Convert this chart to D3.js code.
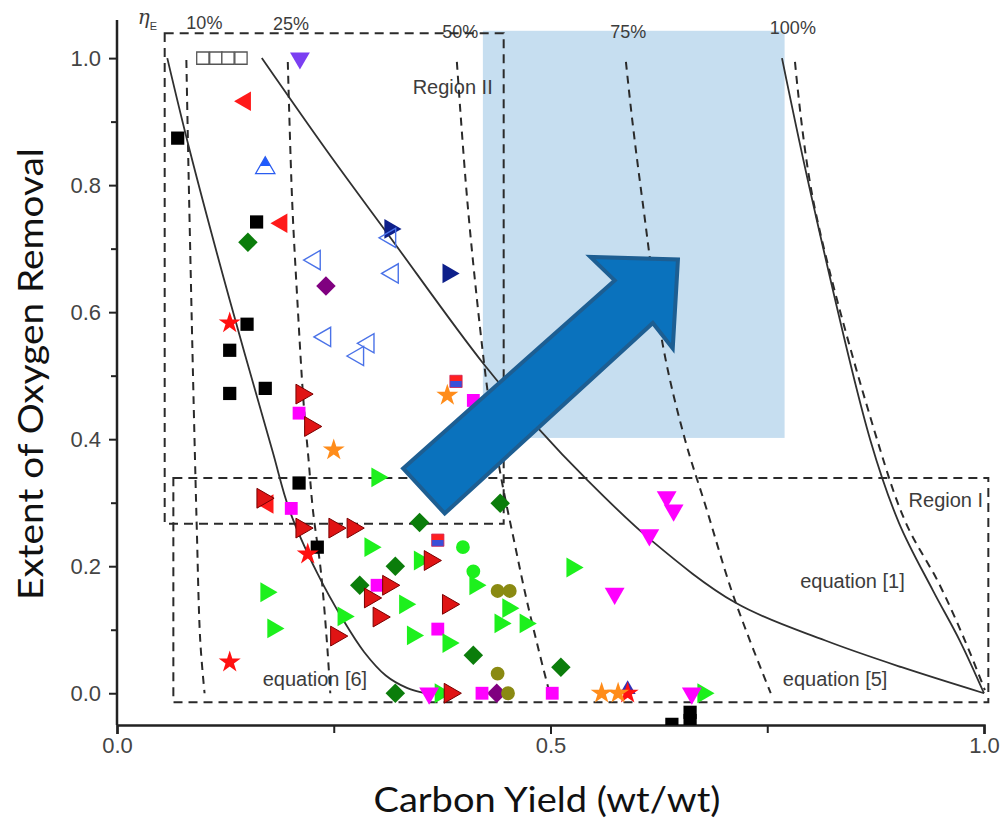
<!DOCTYPE html>
<html><head><meta charset="utf-8">
<script src="https://cdn.jsdelivr.net/npm/d3@7"></script>
<style>body{margin:0;background:#fff;} svg{display:block;}</style>
</head><body>
<svg id="chart" width="1005" height="825"></svg>
<script>
// ---------------- data ----------------
const xTickValues = [0, 0.5, 1.0];
const xMinorTicks = [0.25, 0.75];
const yTickValues = [0, 0.2, 0.4, 0.6, 0.8, 1.0];
const yMinorTicks = [0.1, 0.3, 0.5, 0.7, 0.9];
const etaLabels = ["10%", "25%", "50%", "75%", "100%"];
const xTitle = "Carbon Yield (wt/wt)";
const yTitle = "Extent of Oxygen Removal";

// iso-efficiency (dashed) curves [x, y]
const eta10 = [[0.080,0.997],[0.082,0.855],[0.087,0.540],[0.090,0.367],[0.092,0.261],[0.096,0.083],[0.101,0.0]];
const eta25 = [[0.197,0.994],[0.202,0.776],[0.208,0.619],[0.215,0.461],[0.221,0.367],[0.226,0.288],[0.235,0.194],[0.242,0.083],[0.246,0.0]];
const eta50 = [[0.392,0.994],[0.404,0.776],[0.419,0.572],[0.430,0.450],[0.443,0.340],[0.458,0.240],[0.472,0.150],[0.486,0.070],[0.499,0.0]];
const eta75 = [[0.587,0.994],[0.594,0.906],[0.606,0.776],[0.630,0.545],[0.655,0.400],[0.680,0.290],[0.708,0.165],[0.730,0.083],[0.754,0.0]];
const eta100 = [[0.782,0.994],[0.803,0.776],[0.877,0.398],[0.910,0.268],[0.948,0.173],[0.978,0.083],[1.001,0.005]];

// model curves (solid)
const equation6 = [[0.058,1.0],[0.084,0.854],[0.130,0.619],[0.179,0.383],[0.199,0.288],[0.231,0.189],[0.261,0.115],[0.285,0.065],[0.310,0.028],[0.335,0.008],[0.355,0.0]];
const equation5 = [[0.167,1.0],[0.242,0.854],[0.315,0.718],[0.422,0.520],[0.488,0.414],[0.540,0.339],[0.616,0.241],[0.714,0.142],[0.817,0.083],[0.905,0.041],[1.0,0.0]];
const equation1 = [[0.767,1.0],[0.802,0.776],[0.869,0.398],[0.902,0.268],[0.941,0.162],[0.972,0.083],[1.0,0.0]];

// literature data points [carbon yield, extent of O removal]
const blackSquares = [[0.070,0.874],[0.161,0.742],[0.150,0.581],[0.130,0.540],[0.130,0.472],[0.171,0.480],[0.210,0.331],[0.231,0.230],[0.640,-0.049],[0.661,-0.030],[0.661,-0.043]];
const openSquares = [[0.099,1.0],[0.114,1.0],[0.128,1.0],[0.143,1.0]];
const purpleDownTri = [[0.211,1.0]];
const redLeftTri = [[0.148,0.932],[0.190,0.740],[0.174,0.298]];
const blueHalfUpTri = [[0.171,0.827]];
const greenDiamonds = [[0.151,0.710],[0.349,0.269],[0.442,0.299],[0.321,0.200],[0.280,0.170],[0.411,0.060],[0.512,0.041],[0.321,0.0]];
const purpleDiamonds = [[0.241,0.641],[0.438,0.0]];
const navyRightTri = [[0.315,0.731],[0.382,0.661]];
const openBlueLeftTri = [[0.315,0.717],[0.228,0.682],[0.318,0.661],[0.240,0.561],[0.290,0.551],[0.278,0.531]];
const navyUpTri = [[0.589,0.006]];
const redStars = [[0.130,0.583],[0.220,0.219],[0.130,0.049],[0.589,0.0]];
const orangeStars = [[0.381,0.469],[0.250,0.383],[0.559,0.0],[0.578,0.0]];
const redBlueSquares = [[0.391,0.491],[0.370,0.241]];
const magentaSquares = [[0.411,0.461],[0.210,0.441],[0.201,0.291],[0.300,0.170],[0.370,0.101],[0.421,0.0],[0.502,0.0]];
const redRightTri = [[0.213,0.471],[0.223,0.420],[0.168,0.307],[0.213,0.260],[0.251,0.260],[0.272,0.260],[0.361,0.209],[0.313,0.170],[0.292,0.150],[0.382,0.140],[0.302,0.120],[0.253,0.090],[0.384,0.0]];
const greenRightTri = [[0.300,0.340],[0.292,0.230],[0.349,0.209],[0.413,0.170],[0.332,0.140],[0.172,0.159],[0.180,0.102],[0.261,0.121],[0.451,0.134],[0.442,0.110],[0.471,0.110],[0.341,0.091],[0.382,0.079],[0.525,0.198],[0.373,0.0],[0.676,0.0]];
const greenCircles = [[0.399,0.230],[0.411,0.192]];
const oliveCircles = [[0.439,0.161],[0.453,0.161],[0.439,0.031],[0.451,0.0]];
const magentaDownTri = [[0.634,0.309],[0.642,0.288],[0.614,0.249],[0.574,0.157],[0.360,0.0],[0.663,0.0]];

// annotation shapes in data space
const blueZone = {x0:0.422, x1:0.770, y0:0.402, y1:1.043};
const region2 = {x0:0.055, x1:0.446, y0:0.267, y1:1.039};
const region1 = {x0:0.065, x1:1.005, y0:-0.014, y1:0.339};
const arrowShape = [[0.330,0.354],[0.574,0.650],[0.546,0.687],[0.647,0.683],[0.641,0.543],[0.618,0.583],[0.378,0.283]];

// ---------------- drawing ----------------
const svg = d3.select("#chart");
const x = d3.scaleLinear().domain([0, 1]).range([117, 984]);
const y = d3.scaleLinear().domain([-0.05, 1.06]).range([725, 20]);

const defs = svg.append("defs");
defs.append("clipPath").attr("id","plotclip").append("rect")
  .attr("x", x(0)).attr("y", 0).attr("width", 1005 - x(0)).attr("height", y(-0.05));
const g1 = defs.append("linearGradient").attr("id","rb").attr("x1",0).attr("y1",0).attr("x2",0).attr("y2",1);
[[0,"#ff2020"],[0.5,"#ff2020"],[0.5,"#3a4fd9"],[1,"#3a4fd9"]].forEach(s=>g1.append("stop").attr("offset",s[0]).attr("stop-color",s[1]));
const g2 = defs.append("linearGradient").attr("id","bh").attr("x1",0).attr("y1",0).attr("x2",0).attr("y2",1);
[[0,"#1f5bff"],[0.55,"#1f5bff"],[0.55,"#ffffff"],[1,"#ffffff"]].forEach(s=>g2.append("stop").attr("offset",s[0]).attr("stop-color",s[1]));

// blue target zone
svg.append("rect")
  .attr("x", x(blueZone.x0)).attr("y", y(blueZone.y1))
  .attr("width", x(blueZone.x1) - x(blueZone.x0)).attr("height", y(blueZone.y0) - y(blueZone.y1))
  .attr("fill", "#c6def0");

const textColor = "#3c3c3c";
// annotation text
const ann = svg.append("g").attr("font-family","Liberation Sans, Arial, sans-serif").attr("fill",textColor);
const etaPos = [[0.080,1.046],[0.180,1.045],[0.375,1.031],[0.569,1.031],[0.753,1.038]];
etaLabels.forEach((t,i)=> ann.append("text").attr("x", x(etaPos[i][0])).attr("y", y(etaPos[i][1])).attr("font-size",18).text(t));
const eta = ann.append("text").attr("x", x(0.024)).attr("y", y(1.054));
eta.append("tspan").attr("font-family","DejaVu Serif, serif").attr("font-style","italic").attr("font-size",20).text("η");
eta.append("tspan").attr("font-size",11).attr("dy",6).text("E");
ann.append("text").attr("x", x(0.341)).attr("y", y(0.943)).attr("font-size",20).text("Region II");
ann.append("text").attr("x", x(0.913)).attr("y", y(0.294)).attr("font-size",20).text("Region I");
ann.append("text").attr("x", x(0.788)).attr("y", y(0.165)).attr("font-size",20).text("equation [1]");
ann.append("text").attr("x", x(0.768)).attr("y", y(0.011)).attr("font-size",20).text("equation [5]");
ann.append("text").attr("x", x(0.168)).attr("y", y(0.011)).attr("font-size",20).text("equation [6]");

// dashed region boxes
const dash = "9,6";
function regionBox(r){
  svg.append("rect").attr("x", x(r.x0)).attr("y", y(r.y1))
    .attr("width", x(r.x1)-x(r.x0)).attr("height", y(r.y0)-y(r.y1))
    .attr("fill","none").attr("stroke","#2a2a2a").attr("stroke-width",2).attr("stroke-dasharray",dash);
}
regionBox(region2);
regionBox(region1);

// dashed iso-efficiency curves
const smooth = d3.line().x(d=>x(d[0])).y(d=>y(d[1])).curve(d3.curveCatmullRom.alpha(0.5));
[eta10, eta25, eta50, eta75, eta100].forEach(c=>{
  svg.append("path").attr("d", smooth(c)).attr("fill","none").attr("stroke","#2a2a2a")
    .attr("stroke-width",2).attr("stroke-dasharray","8,6");
});
// solid model curves
[equation6, equation5, equation1].forEach(c=>{
  svg.append("path").attr("d", smooth(c)).attr("fill","none").attr("stroke","#303030").attr("stroke-width",1.8);
});

// axes
const axisColor = "#222";
const yAxis = svg.append("g").attr("transform",`translate(${x(0)},0)`)
  .call(d3.axisLeft(y).tickValues(yTickValues).tickFormat(d3.format(".1f")).tickSize(8).tickPadding(8));
svg.append("g").attr("transform",`translate(${x(0)},0)`)
  .call(d3.axisLeft(y).tickValues(yMinorTicks).tickFormat("").tickSize(6))
  .call(g=>g.select(".domain").remove());
const xAxis = svg.append("g").attr("transform",`translate(0,${y(-0.05)})`)
  .call(d3.axisBottom(x).tickValues(xTickValues).tickFormat(d3.format(".1f")).tickSize(9).tickPadding(3));
svg.append("g").attr("transform",`translate(0,${y(-0.05)})`)
  .call(d3.axisBottom(x).tickValues(xMinorTicks).tickFormat("").tickSize(8))
  .call(g=>g.select(".domain").remove());
svg.selectAll(".domain").attr("stroke",axisColor).attr("stroke-width",2.5);
svg.selectAll(".tick line").attr("stroke",axisColor).attr("stroke-width",2);
svg.selectAll(".tick text").attr("font-family","Liberation Sans, Arial, sans-serif").attr("font-size",22).attr("fill","#444");
yAxis.select(".domain").attr("d", `M0,${y(-0.05)}V${y(1.06)}`);

// markers
const markers = svg.append("g").attr("clip-path","url(#plotclip)");
function plot(data, type, size, rot, fill, stroke, sw){
  markers.append("g").selectAll("path").data(data).join("path")
    .attr("d", d3.symbol().type(type).size(size)())
    .attr("transform", d=>`translate(${x(d[0])},${y(d[1])}) rotate(${rot})`)
    .attr("fill", fill).attr("stroke", stroke || "none").attr("stroke-width", sw || 0);
}
plot(openSquares, d3.symbolSquare, 150, 0, "#ffffff", "#555", 1.3);
plot(blackSquares, d3.symbolSquare, 175, 0, "#000000");
plot(purpleDownTri, d3.symbolTriangle, 170, 180, "#7b3ff2");
plot(redLeftTri, d3.symbolTriangle, 165, -90, "#ff1a1a");
plot(blueHalfUpTri, d3.symbolTriangle, 160, 0, "url(#bh)", "#2a5cf0", 1.3);
plot(greenDiamonds, d3.symbolSquare, 190, 45, "#0b7d0b");
plot(purpleDiamonds, d3.symbolSquare, 190, 45, "#800080");
plot(navyRightTri, d3.symbolTriangle, 170, 90, "#0d1f8a");
plot(openBlueLeftTri, d3.symbolTriangle, 160, -90, "none", "#4a72e8", 1.4);
plot(navyUpTri, d3.symbolTriangle, 110, 0, "#3030b8");
plot(redStars, d3.symbolStar, 150, 0, "#ff1010");
plot(orangeStars, d3.symbolStar, 150, 0, "#ff8c1a");
plot(redBlueSquares, d3.symbolSquare, 150, 0, "url(#rb)", "#d02050", 0.8);
plot(magentaSquares, d3.symbolSquare, 165, 0, "#ff00ff");
plot(greenRightTri, d3.symbolTriangle, 170, 90, "#1df01d");
plot(greenCircles, d3.symbolCircle, 150, 0, "#1df01d");
plot(oliveCircles, d3.symbolCircle, 150, 0, "#8a8a12");
plot(redRightTri, d3.symbolTriangle, 170, 90, "#e01414", "#7a0000", 1);
plot(magentaDownTri, d3.symbolTriangle, 170, 180, "#ff00ff");

// arrow
svg.append("path")
  .attr("d", d3.line().x(d=>x(d[0])).y(d=>y(d[1]))(arrowShape) + "Z")
  .attr("fill","#0a72bd").attr("stroke","#1d5e92").attr("stroke-width",4).attr("stroke-linejoin","miter");

// axis titles
svg.append("text").attr("x", 547).attr("y", 812).attr("text-anchor","middle")
  .attr("font-family","Lato, 'Open Sans', sans-serif").attr("font-size",34).attr("fill","#111")
  .attr("textLength",347).attr("lengthAdjust","spacingAndGlyphs").text(xTitle);
svg.append("text").attr("transform","translate(43,374) rotate(-90)").attr("text-anchor","middle")
  .attr("font-family","Lato, 'Open Sans', sans-serif").attr("font-size",34).attr("fill","#111")
  .attr("textLength",452).attr("lengthAdjust","spacingAndGlyphs").text(yTitle);
</script>
</body></html>
